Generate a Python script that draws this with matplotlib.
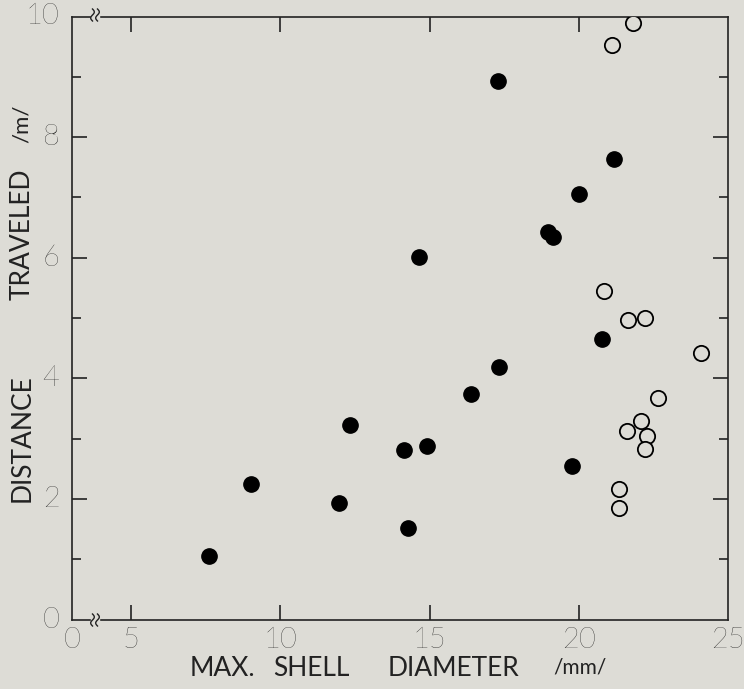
import matplotlib
matplotlib.use("Agg")
import matplotlib.pyplot as plt
import numpy as np
from matplotlib.transforms import blended_transform_factory

# ---- data (mm, m) ----
filled_x = [7.62, 9.02, 11.96, 12.35, 14.15, 14.27, 14.90, 16.40, 17.32,
            14.66, 17.29, 18.98, 19.12, 20.00, 21.19, 20.77, 19.76]
filled_y = [1.05, 2.24, 1.93, 3.22, 2.81, 1.52, 2.87, 3.74, 4.19,
            6.01, 8.93, 6.43, 6.35, 7.05, 7.63, 4.65, 2.54]
open_x = [21.81, 21.13, 20.85, 21.64, 22.23, 24.08, 22.65, 22.09, 21.62,
          22.30, 22.21, 21.34, 21.34]
open_y = [9.90, 9.52, 5.44, 4.97, 5.00, 4.42, 3.67, 3.29, 3.12,
          3.04, 2.83, 2.16, 1.85]

x_tick_pos = [3.02, 5, 10, 15, 20, 25]
x_tick_labels = ["0", "5", "10", "15", "20", "25"]
y_tick_pos = [0, 2, 4, 6, 8, 10]
y_tick_labels = ["0", "2", "4", "6", "8", "10"]

BG = "#dddcd6"
INK = "#222222"
FONT = ["Lato", "DejaVu Sans"]

fig = plt.figure(figsize=(7.44, 6.89), dpi=100, facecolor=BG)
ax = fig.add_axes([72/744, 1-619.5/689, 656/744, (619.5-16.5)/689])
ax.set_facecolor(BG)
ax.set_xlim(3.02, 25.0)
ax.set_ylim(0, 10)

for s in ax.spines.values():
    s.set_color(INK)
    s.set_linewidth(1.2)

ax.plot(filled_x, filled_y, "o", ms=11, color="black", mec="black", zorder=3)
ax.plot(open_x, open_y, "o", ms=11, mfc=BG, mec="black", mew=1.3, zorder=3)

# ticks
ax.set_xticks([5, 10, 15, 20])
ax.set_yticks([2, 4, 6, 8])
ax.set_yticks([1, 3, 5, 7, 9], minor=True)
ax.tick_params(which="major", direction="in", length=11, width=1.2, color=INK,
               top=True, right=True, labelbottom=False, labelleft=False)
ax.tick_params(which="minor", direction="in", length=6.5, width=1.2, color=INK,
               left=True, right=True)

# tick labels as text
tx = blended_transform_factory(ax.transData, ax.transAxes)
for v, lab in zip(x_tick_pos, x_tick_labels):
    ax.text(v, -0.034, lab, transform=tx, ha="center", va="center",
            fontsize=21, family=FONT, fontweight="light", color="black")
ty = blended_transform_factory(ax.transAxes, ax.transData)
for v, lab in zip(y_tick_pos, y_tick_labels):
    ax.text(-0.019, v, lab, transform=ty, ha="right", va="center",
            fontsize=21, family=FONT, fontweight="light", color="black")

# axis titles
fy = lambda p: 1 - p/689
for word, cx in (("MAX.", 222), ("SHELL", 311), ("DIAMETER", 454)):
    fig.text(cx/744, fy(668), word, ha="center", va="center",
             fontsize=19, family=FONT, color=INK)
fig.text(580/744, fy(668), "/mm/", ha="center", va="center",
         fontsize=15, family=FONT, color=INK)
for word, cy in (("DISTANCE", 438), ("TRAVELED", 234)):
    fig.text(22/744, fy(cy), word, ha="center", va="center",
             rotation=90, fontsize=19, family=FONT, color=INK)
fig.text(22/744, fy(124), "/m/", ha="center", va="center",
         rotation=90, fontsize=16, family=FONT, color=INK)

# axis break marks on bottom and top spines
def brk(px, py):
    fx = lambda p: p/744
    fig.patches.append(plt.Rectangle((fx(px-4), fy(py+3)), 8/744, 6/689,
                                     transform=fig.transFigure, color=BG, zorder=5))
    t = np.linspace(-1, 1, 40)
    for dx in (-2.5, 2.5):
        xs = px + dx + 1.8*np.sin(np.pi*t)
        ys = py - 6*t
        fig.lines.append(plt.Line2D(fx(xs), fy(ys), transform=fig.transFigure,
                                    color=INK, lw=1.0, zorder=6))

brk(95, 620)
brk(95, 15)

fig.savefig("out.png", dpi=100, facecolor=BG)
